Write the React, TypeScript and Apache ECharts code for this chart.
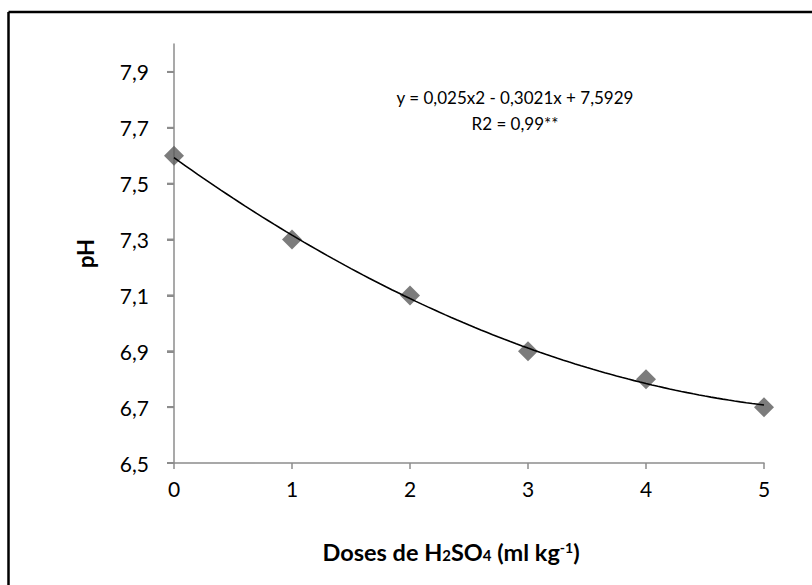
import React, { useEffect, useRef } from "react";
import * as echarts from "echarts";

const doses = [0, 1, 2, 3, 4, 5];
const phValues = [7.6, 7.3, 7.1, 6.9, 6.8, 6.7];
const yTickValues = [6.5, 6.7, 6.9, 7.1, 7.3, 7.5, 7.7, 7.9];
const trendCoefficients = [0.025, -0.3021, 7.5929]; // a, b, c of y = a x^2 + b x + c
const equationLabel = "y = 0,025x2 - 0,3021x + 7,5929";
const r2Label = "R2 = 0,99**";

const FONT = "Lato, 'Open Sans', sans-serif";
const AXIS_COLOR = "#8c8c8c";

export default function App() {
  const ref = useRef<HTMLDivElement>(null);
  useEffect(() => {
    if (!ref.current) return;
    const chart = echarts.init(ref.current, undefined, { renderer: "svg" });
    const [a, b, c] = trendCoefficients;
    const trend: number[][] = [];
    for (let i = 0; i <= 100; i++) {
      const x = (i * 5) / 100;
      trend.push([x, a * x * x + b * x + c]);
    }
    const isShownTick = (v: number) => yTickValues.some((t) => Math.abs(t - v) < 1e-6);
    chart.setOption({
      animation: false,
      textStyle: { fontFamily: FONT },
      grid: { left: 174, top: 44, right: 48, bottom: 122 },
      xAxis: {
        type: "value",
        min: 0,
        max: 5,
        interval: 1,
        name: "Doses de H{sub|2}SO{sub|4} (ml kg{sup|-1})",
        nameLocation: "middle",
        nameGap: 77,
        nameTextStyle: {
          fontFamily: FONT,
          fontSize: 23.5,
          fontWeight: "bold",
          color: "#000",
          padding: [0, 36, 0, 0],
          rich: {
            sub: { fontSize: 15, fontWeight: "bold", color: "#000", fontFamily: FONT, padding: [6, 0, 0, 0] },
            sup: { fontSize: 14, fontWeight: "bold", color: "#000", fontFamily: FONT, padding: [0, 0, 9, 0] },
          },
        },
        axisLine: { lineStyle: { color: AXIS_COLOR, width: 1.5 } },
        axisTick: { show: true, length: 6, lineStyle: { color: AXIS_COLOR, width: 1.5 } },
        axisLabel: { fontSize: 21, color: "#000", margin: 15, fontFamily: FONT },
        splitLine: { show: false },
      },
      yAxis: {
        type: "value",
        min: 6.5,
        max: 8.0,
        interval: 0.1,
        name: "pH",
        nameLocation: "middle",
        nameGap: 78,
        nameTextStyle: { fontFamily: FONT, fontSize: 22, fontWeight: "bold", color: "#000" },
        axisLine: { show: true, lineStyle: { color: AXIS_COLOR, width: 1.5 } },
        axisTick: {
          show: true,
          length: 7,
          customValues: yTickValues,
          lineStyle: { color: AXIS_COLOR, width: 2 },
        },
        axisLabel: {
          fontSize: 21,
          color: "#000",
          margin: 25,
          fontFamily: FONT,
          customValues: yTickValues,
          formatter: (v: number) => (isShownTick(v) ? v.toFixed(1).replace(".", ",") : ""),
        },
        splitLine: { show: false },
      },
      series: [
        {
          type: "custom",
          data: yTickValues.map((v) => [0, v]),
          clip: false,
          silent: true,
          z: 6,
          renderItem: (_params: any, api: any) => {
            const p = api.coord([api.value(0), api.value(1)]);
            return {
              type: "line",
              shape: { x1: p[0] - 7, y1: p[1], x2: p[0], y2: p[1] },
              style: { stroke: AXIS_COLOR, lineWidth: 2 },
            };
          },
        },
        {
          type: "scatter",
          data: doses.map((d, i) => [d, phValues[i]]),
          symbol: "diamond",
          symbolSize: 20,
          itemStyle: { color: "#5b5b5b" },
          z: 7,
        },
        {
          type: "line",
          data: trend,
          showSymbol: false,
          symbol: "none",
          lineStyle: { color: "#000", width: 1.6 },
          z: 8,
        },
      ],
      graphic: [
        {
          type: "line",
          shape: { x1: 8.5, y1: 12, x2: 812, y2: 12 },
          style: { stroke: "#000", lineWidth: 2.5 },
          silent: true,
        },
        {
          type: "line",
          shape: { x1: 8.5, y1: 12, x2: 8.5, y2: 585 },
          style: { stroke: "#000", lineWidth: 2.5 },
          silent: true,
        },
        {
          type: "text",
          x: 515,
          y: 97,
          style: { text: equationLabel, fontSize: 17, fontFamily: FONT, fill: "#000", align: "center", verticalAlign: "middle" },
        },
        {
          type: "text",
          x: 515,
          y: 123,
          style: { text: r2Label, fontSize: 17, fontFamily: FONT, fill: "#000", align: "center", verticalAlign: "middle" },
        },
      ],
    });
    return () => chart.dispose();
  }, []);
  return (
    <div
      ref={ref}
      style={{ position: "fixed", left: 0, top: 0, width: 812, height: 585, background: "#fff" }}
    />
  );
}
